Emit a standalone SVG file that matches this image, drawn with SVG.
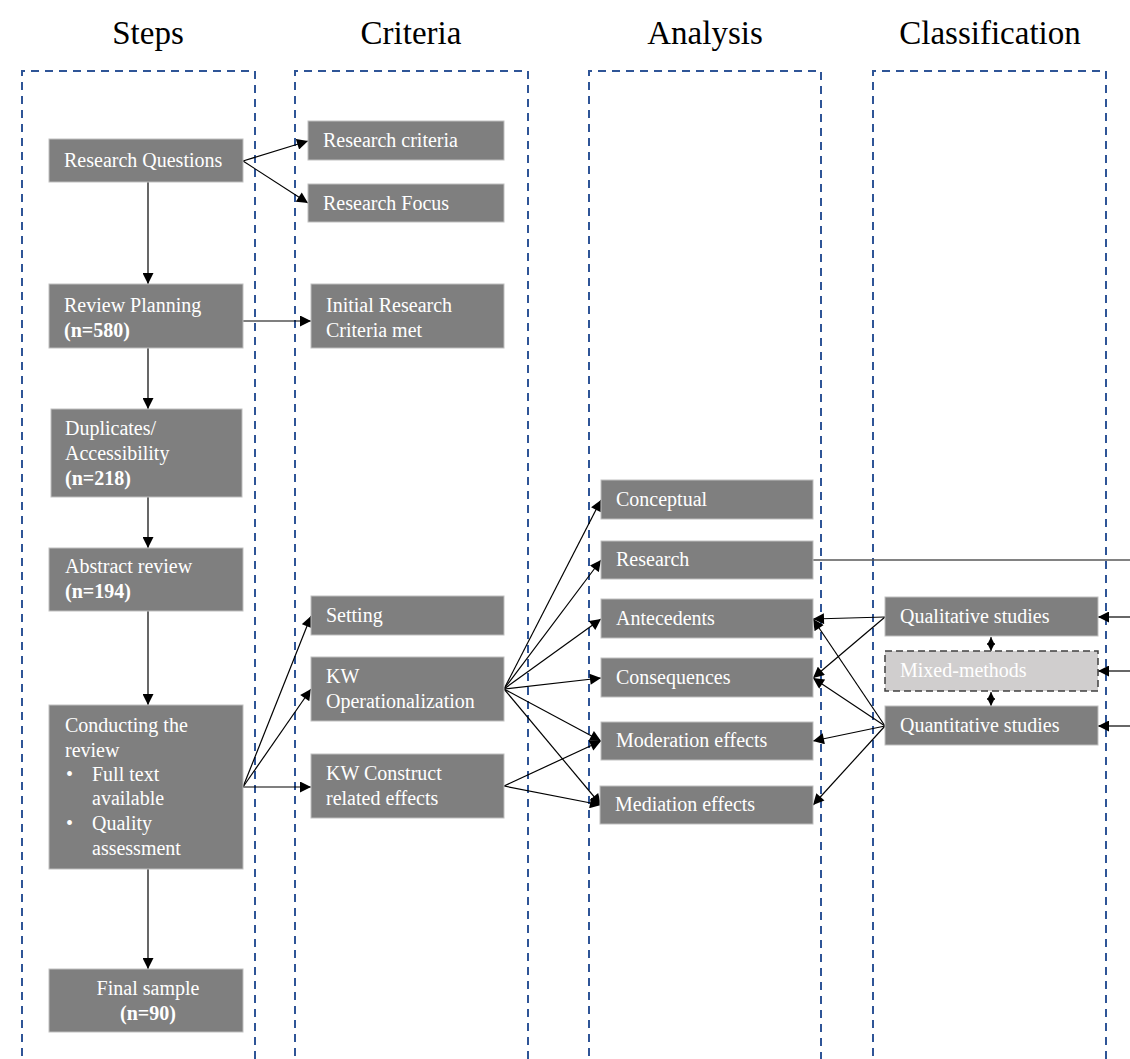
<svg xmlns="http://www.w3.org/2000/svg" width="1130" height="1059" viewBox="0 0 1130 1059">
<style>
.title{font-family:"Liberation Serif","Times New Roman",serif;font-size:33px;fill:#000;text-anchor:middle}
.col{fill:none;stroke:#2f5597;stroke-width:2;stroke-dasharray:8 6}
.box{fill:#7f7f7f;stroke:#bfbfbf;stroke-width:1}
.mixed{fill:#d0cece;stroke:#404040;stroke-width:1.5;stroke-dasharray:7 4}
.t{font-family:"Liberation Serif","Times New Roman",serif;font-size:20px;fill:#fff}
.b{font-weight:bold}
.c{text-anchor:middle}
.e{stroke:#000;stroke-width:1.2;fill:none;marker-end:url(#ah)}
</style>
<defs>
<marker id="ah" viewBox="0 0 10 10" refX="10" refY="5" markerWidth="12" markerHeight="11" markerUnits="userSpaceOnUse" orient="auto">
<path d="M0,0 L10,5 L0,10 z" fill="#000"/>
</marker>
<marker id="ahs" viewBox="0 0 10 10" refX="10" refY="5" markerWidth="8" markerHeight="9" markerUnits="userSpaceOnUse" orient="auto-start-reverse">
<path d="M0,0 L10,5 L0,10 z" fill="#000"/>
</marker>
</defs>
<rect width="1130" height="1059" fill="#fff"/>
<g id="titles">
<text class="title" x="148" y="44">Steps</text>
<text class="title" x="411" y="44">Criteria</text>
<text class="title" x="705" y="44">Analysis</text>
<text class="title" x="990" y="44">Classification</text>
</g>
<g id="columns">
<path class="col" d="M22,1070 V71 H255 V1070"/>
<path class="col" d="M295,1070 V71 H528 V1070"/>
<path class="col" d="M589,1070 V71 H821 V1070"/>
<path class="col" d="M873,1070 V71 H1106 V1070"/>
</g>
<g id="connectors">
<line class="e" x1="243" y1="161" x2="308" y2="141"/>
<line class="e" x1="243" y1="161" x2="308" y2="203"/>
<line class="e" x1="148" y1="182" x2="148" y2="284"/>
<line class="e" x1="243" y1="321" x2="311" y2="321"/>
<line class="e" x1="148" y1="348" x2="148" y2="409"/>
<line class="e" x1="148" y1="497" x2="148" y2="548"/>
<line class="e" x1="148" y1="611" x2="148" y2="705"/>
<line class="e" x1="148" y1="869" x2="148" y2="969"/>
<line class="e" x1="243" y1="787" x2="311" y2="616"/>
<line class="e" x1="243" y1="787" x2="311" y2="689"/>
<line class="e" x1="243" y1="787" x2="311" y2="787"/>
<line class="e" x1="504" y1="689" x2="601" y2="500"/>
<line class="e" x1="504" y1="689" x2="601" y2="560"/>
<line class="e" x1="504" y1="689" x2="601" y2="619"/>
<line class="e" x1="504" y1="689" x2="601" y2="678"/>
<line class="e" x1="504" y1="689" x2="601" y2="741"/>
<line class="e" x1="504" y1="689" x2="601" y2="805"/>
<line class="e" x1="504" y1="786" x2="601" y2="741"/>
<line class="e" x1="504" y1="786" x2="601" y2="805"/>
<line x1="813" y1="560" x2="1130" y2="560" stroke="#595959" stroke-width="1.5"/>
<line class="e" x1="885" y1="617" x2="813" y2="619"/>
<line class="e" x1="885" y1="617" x2="813" y2="678"/>
<line class="e" x1="885" y1="726" x2="813" y2="619"/>
<line class="e" x1="885" y1="726" x2="813" y2="678"/>
<line class="e" x1="885" y1="726" x2="813" y2="741"/>
<line class="e" x1="885" y1="726" x2="813" y2="805"/>
<line class="e" x1="1130" y1="617" x2="1098" y2="617"/>
<line class="e" x1="1130" y1="671" x2="1098" y2="671"/>
<line class="e" x1="1130" y1="726" x2="1098" y2="726"/>
<line x1="991" y1="637" x2="991" y2="651" stroke="#000" stroke-width="1" marker-start="url(#ahs)" marker-end="url(#ahs)"/>
<line x1="991" y1="692" x2="991" y2="706" stroke="#000" stroke-width="1" marker-start="url(#ahs)" marker-end="url(#ahs)"/>
</g>
<g id="n-rq"><rect class="box" x="49" y="139" width="194" height="43"/><text class="t" x="64" y="167">Research Questions</text></g>
<g id="n-rc"><rect class="box" x="308" y="121" width="196" height="39"/><text class="t" x="323" y="147">Research criteria</text></g>
<g id="n-rf"><rect class="box" x="308" y="184" width="196" height="38"/><text class="t" x="323" y="210">Research Focus</text></g>
<g id="n-rp"><rect class="box" x="49" y="284" width="194" height="64"/><text class="t" x="64" y="312">Review Planning</text><text class="t b" x="64" y="337">(n=580)</text></g>
<g id="n-irc"><rect class="box" x="311" y="284" width="193" height="64"/><text class="t" x="326" y="312">Initial Research</text><text class="t" x="326" y="337">Criteria met</text></g>
<g id="n-dup"><rect class="box" x="51" y="409" width="191" height="88"/><text class="t" x="65" y="435">Duplicates/</text><text class="t" x="65" y="460">Accessibility</text><text class="t b" x="65" y="485">(n=218)</text></g>
<g id="n-abs"><rect class="box" x="49" y="548" width="194" height="63"/><text class="t" x="65" y="573">Abstract review</text><text class="t b" x="65" y="598">(n=194)</text></g>
<g id="n-con"><rect class="box" x="49" y="705" width="194" height="164"/><text class="t" x="65" y="732">Conducting the</text><text class="t" x="65" y="757">review</text><text class="t" x="66" y="781">•</text><text class="t" x="92" y="781">Full text</text><text class="t" x="92" y="805">available</text><text class="t" x="66" y="830">•</text><text class="t" x="92" y="830">Quality</text><text class="t" x="92" y="855">assessment</text></g>
<g id="n-fin"><rect class="box" x="49" y="969" width="194" height="63"/><text class="t c" x="148" y="995">Final sample</text><text class="t b c" x="148" y="1020">(n=90)</text></g>
<g id="n-set"><rect class="box" x="311" y="596" width="193" height="39"/><text class="t" x="326" y="622">Setting</text></g>
<g id="n-kwo"><rect class="box" x="311" y="657" width="193" height="64"/><text class="t" x="326" y="683">KW</text><text class="t" x="326" y="708">Operationalization</text></g>
<g id="n-kwc"><rect class="box" x="311" y="754" width="193" height="64"/><text class="t" x="326" y="780">KW Construct</text><text class="t" x="326" y="805">related effects</text></g>
<g id="n-cpt"><rect class="box" x="601" y="480" width="212" height="39"/><text class="t" x="616" y="506">Conceptual</text></g>
<g id="n-res"><rect class="box" x="601" y="541" width="212" height="38"/><text class="t" x="616" y="566">Research</text></g>
<g id="n-ant"><rect class="box" x="601" y="599" width="212" height="39"/><text class="t" x="616" y="625">Antecedents</text></g>
<g id="n-cons"><rect class="box" x="601" y="658" width="212" height="39"/><text class="t" x="616" y="684">Consequences</text></g>
<g id="n-mod"><rect class="box" x="601" y="722" width="212" height="38"/><text class="t" x="616" y="747">Moderation effects</text></g>
<g id="n-med"><rect class="box" x="600" y="786" width="213" height="38"/><text class="t" x="615" y="811">Mediation effects</text></g>
<g id="n-qual"><rect class="box" x="885" y="597" width="213" height="39"/><text class="t" x="900" y="623">Qualitative studies</text></g>
<g id="n-mix"><rect class="mixed" x="885" y="651" width="213" height="40"/><text class="t" x="900" y="677" fill="#f2f2f2">Mixed-methods</text></g>
<g id="n-quan"><rect class="box" x="885" y="706" width="213" height="39"/><text class="t" x="900" y="732">Quantitative studies</text></g>
</svg>
